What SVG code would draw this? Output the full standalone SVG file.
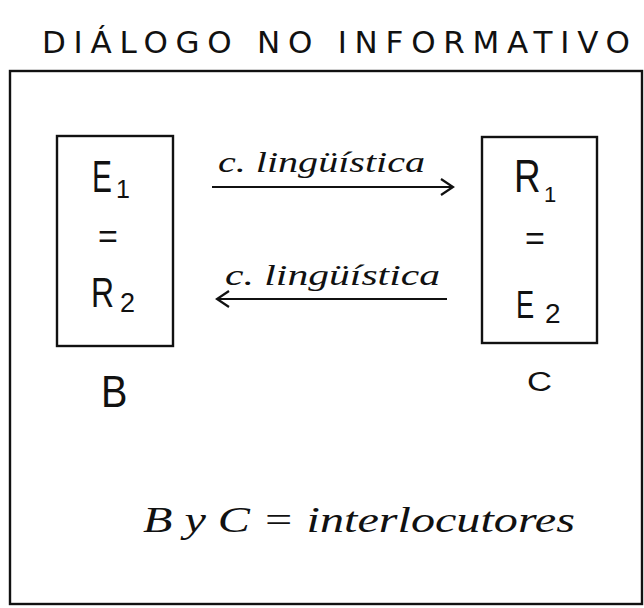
<svg xmlns="http://www.w3.org/2000/svg" width="644" height="608" viewBox="0 0 644 608">
<style>
  .hand { font-family: "DejaVu Sans", "Liberation Sans", sans-serif; fill: #111; }
  .let { font-family: "Liberation Sans", "DejaVu Sans", sans-serif; fill: #111; }
  .cur { font-family: "Liberation Serif", "DejaVu Serif", serif; font-style: italic; fill: #111; }
  .box { fill: none; stroke: #111; stroke-width: 2.4; }
  .conn { fill: none; stroke: #111; stroke-width: 2.2; }
</style>
<defs>
  <marker id="open" viewBox="0 0 16 20" refX="14" refY="10" markerWidth="16" markerHeight="20" markerUnits="userSpaceOnUse" orient="auto-start-reverse">
    <path d="M2,2 L14,10 L2,18" fill="none" stroke="#111" stroke-width="2.2"/>
  </marker>
</defs>
<rect width="644" height="608" fill="#fff"/>
<g id="title">
  <text class="hand" x="42" y="53" font-size="31" textLength="588" lengthAdjust="spacing">DIÁLOGO NO INFORMATIVO</text>
</g>
<g id="frame">
  <rect class="box" x="10" y="71" width="632" height="533"/>
</g>
<g id="node-B">
  <rect class="box" x="57" y="136" width="116" height="210"/>
  <text class="let" transform="translate(92,192) scale(0.68,1)" font-size="44">E</text>
  <text class="let" x="116" y="198" font-size="25">1</text>
  <text class="let" x="108" y="248" font-size="34" text-anchor="middle">=</text>
  <text class="let" transform="translate(91,307) scale(0.76,1)" font-size="42">R</text>
  <text class="let" x="120" y="312" font-size="27">2</text>
  <text class="let" transform="translate(101,407) scale(0.9,1)" font-size="44">B</text>
</g>
<g id="node-C">
  <rect class="box" x="482" y="137" width="115" height="206"/>
  <text class="let" transform="translate(514,192) scale(0.8,1)" font-size="46">R</text>
  <text class="let" x="544" y="202" font-size="22">1</text>
  <text class="let" x="535" y="250" font-size="34" text-anchor="middle">=</text>
  <text class="let" transform="translate(516,318) scale(0.7,1)" font-size="39">E</text>
  <text class="let" x="545" y="323" font-size="28">2</text>
  <text class="let" x="527" y="391" font-size="27" textLength="25" lengthAdjust="spacingAndGlyphs">C</text>
</g>
<g id="connectors">
  <line class="conn" x1="212" y1="187" x2="453" y2="187" marker-end="url(#open)"/>
  <line class="conn" x1="447" y1="299" x2="217" y2="299" marker-end="url(#open)"/>
</g>
<g id="connector-labels">
  <text class="cur" x="218" y="172" font-size="30" textLength="207" lengthAdjust="spacingAndGlyphs">c. lingüística</text>
  <text class="cur" x="225" y="285" font-size="30" textLength="215" lengthAdjust="spacingAndGlyphs">c. lingüística</text>
</g>
<g id="caption">
  <text class="cur" x="143" y="532" font-size="36" textLength="432" lengthAdjust="spacingAndGlyphs">B y C = interlocutores</text>
</g>
</svg>
